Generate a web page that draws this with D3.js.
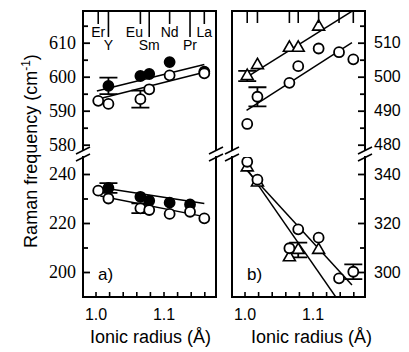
<!DOCTYPE html>
<html>
<head>
<meta charset="utf-8">
<script src="https://cdn.jsdelivr.net/npm/d3@7"></script>
<style>
  body { margin: 0; background: #fff; }
  svg { display: block; }
  .sans { font-family: "Liberation Sans", Arial, sans-serif; }
  .serif { font-family: "Liberation Serif", "Times New Roman", serif; }
</style>
</head>
<body>
<div id="chart"></div>
<script>
// rare-earth ions and their ionic radius (Å)
const elements = ["Er", "Y", "Eu", "Sm", "Nd", "Pr", "La"];
const radii = [1.004, 1.019, 1.066, 1.079, 1.109, 1.139, 1.160];

// panel a) upper and lower band (cm-1)
const aUpFilled = [null, 597.3, 600.2, 600.8, 604.3, null, 601.5];
const aUpOpen = [592.9, 592.0, 593.4, 596.3, 600.4, null, 601.0];
const aLowFilled = [null, 234.3, 230.7, 229.1, 228.3, 227.6, null];
const aLowOpen = [233.2, 230.0, 226.0, 225.3, 223.7, 224.6, 221.9];

// panel b)
const bUpTri = [500.2, 503.4, 508.5, 508.5, 514.7, null, null];
const bUpOpen = [486.1, 494.1, 498.2, 503.1, 508.3, 507.2, 505.1];
const bLowTri = [342.7, 336.5, 306.0, 309.0, 309.0, null, null];
const bLowOpen = [345.0, 337.7, 309.7, 317.4, 314.0, 297.4, 300.1];

// error bars: [element index, half height]
const aUpFilledErr = [[1, 2.4]];
const aUpOpenErr = [[2, 2.5]];
const aLowFilledErr = [[1, 2.0]];
const aLowOpenErr = [[2, 2.0]];
const bUpTriErr = [[0, 1.5]];
const bUpOpenErr = [[1, 2.8]];
const bLowTriErr = [[3, 3.0]];
const bLowOpenErr = [[6, 3.0]];

// linear fits: [[radius, value], [radius, value]]
const aUpFilledFit = [[1.002, 595.8], [1.160, 603.6]];
const aUpOpenFit = [[1.007, 593.6], [1.160, 601.3]];
const aLowFilledFit = [[1.007, 234.5], [1.160, 228.0]];
const aLowOpenFit = [[1.007, 231.0], [1.160, 222.6]];
const bUpTriFit = [[1.001, 499.6], [1.180, 522.0]];
const bUpOpenFit = [[1.003, 490.1], [1.158, 510.0]];
const bLowTriFit = [[1.003, 342.3], [1.136, 289.1]];
const bLowOpenFit = [[1.003, 341.6], [1.158, 294.7]];

// tick values
const xTicks = [1.00, 1.02, 1.04, 1.06, 1.08, 1.10, 1.12, 1.14, 1.16];
const xLabels = [1.0, 1.1];
const aUpMajor = [580, 590, 600, 610], aUpMinor = [585, 595, 605, 615];
const aLowMajor = [200, 220, 240], aLowMinor = [210, 230];
const bUpMajor = [480, 490, 500, 510], bUpMinor = [485, 495, 505, 515];
const bLowMajor = [300, 320, 340], bLowMinor = [310, 330];

const width = 409, height = 352;
const frameTop = 11, frameBottom = 297, breakTop = 150, breakBot = 157;

const svg = d3.select("#chart").append("svg")
  .attr("width", width)
  .attr("height", height);

const panels = [
  {
    id: "a", x0: 83, x1: 216, label: "a)", side: "left",
    up: { domain: [580, 610], major: aUpMajor, minor: aUpMinor,
      series: [
        { values: aUpFilled, marker: "filled", err: aUpFilledErr, fit: aUpFilledFit },
        { values: aUpOpen, marker: "open", err: aUpOpenErr, fit: aUpOpenFit }
      ] },
    low: { domain: [200, 240], major: aLowMajor, minor: aLowMinor,
      series: [
        { values: aLowFilled, marker: "filled", err: aLowFilledErr, fit: aLowFilledFit },
        { values: aLowOpen, marker: "open", err: aLowOpenErr, fit: aLowOpenFit }
      ] }
  },
  {
    id: "b", x0: 232, x1: 365, label: "b)", side: "right",
    up: { domain: [480, 510], major: bUpMajor, minor: bUpMinor,
      series: [
        { values: bUpOpen, marker: "open", err: bUpOpenErr, fit: bUpOpenFit },
        { values: bUpTri, marker: "tri", err: bUpTriErr, fit: bUpTriFit }
      ] },
    low: { domain: [300, 340], major: bLowMajor, minor: bLowMinor,
      series: [
        { values: bLowTri, marker: "tri", err: bLowTriErr, fit: bLowTriFit },
        { values: bLowOpen, marker: "open", err: bLowOpenErr, fit: bLowOpenFit }
      ] }
  }
];

// value -> pixel mapping shared by both panels (upper and lower bands)
const upRange = [144.7, 42.7];
const lowRange = [272, 174];

// Eu label sits left of its tick so it clears Sm
const labelDx = { Eu: -6 };

const defs = svg.append("defs");

panels.forEach(p => {
  const x = d3.scaleLinear().domain([0.9816, 1.1772]).range([p.x0, p.x1]);
  const yUp = d3.scaleLinear().domain(p.up.domain).range(upRange);
  const yLow = d3.scaleLinear().domain(p.low.domain).range(lowRange);

  const g = svg.append("g");

  // clip regions
  defs.append("clipPath").attr("id", "clip-up-" + p.id)
    .append("rect").attr("x", p.x0).attr("y", frameTop)
    .attr("width", p.x1 - p.x0).attr("height", breakTop - frameTop);
  defs.append("clipPath").attr("id", "clip-low-" + p.id)
    .append("rect").attr("x", p.x0).attr("y", breakBot)
    .attr("width", p.x1 - p.x0).attr("height", frameBottom - breakBot);

  [[p.up, yUp, "up"], [p.low, yLow, "low"]].forEach(([band, y, key]) => {
    const layer = g.append("g").attr("clip-path", `url(#clip-${key}-${p.id})`);

    band.series.forEach(s => {
      layer.append("line")
        .attr("x1", x(s.fit[0][0])).attr("y1", y(s.fit[0][1]))
        .attr("x2", x(s.fit[1][0])).attr("y2", y(s.fit[1][1]))
        .attr("stroke", "#000").attr("stroke-width", 1.5);
    });

    band.series.forEach(s => {
      s.err.forEach(([i, e]) => {
        const cx = x(radii[i]);
        const v = s.values[i];
        layer.append("path")
          .attr("d", `M${cx},${y(v - e)}V${y(v + e)}M${cx - 9},${y(v - e)}H${cx + 9}M${cx - 9},${y(v + e)}H${cx + 9}`)
          .attr("stroke", "#000").attr("stroke-width", 1.8).attr("fill", "none");
      });

      const pts = radii.map((r, i) => ({ r, v: s.values[i] })).filter(d => d.v != null);
      if (s.marker === "tri") {
        layer.selectAll(null).data(pts).enter().append("path")
          .attr("d", d3.symbol(d3.symbolTriangle, 62))
          .attr("transform", d => `translate(${x(d.r)},${y(d.v)})`)
          .attr("fill", "#fff").attr("stroke", "#000").attr("stroke-width", 1.6);
      } else {
        layer.selectAll(null).data(pts).enter().append("circle")
          .attr("cx", d => x(d.r)).attr("cy", d => y(d.v)).attr("r", 5)
          .attr("fill", s.marker === "filled" ? "#000" : "#fff")
          .attr("stroke", "#000").attr("stroke-width", 1.8);
      }
    });

    // y ticks
    const axisX = p.side === "left" ? p.x0 : p.x1;
    const mk = p.side === "left" ? d3.axisLeft : d3.axisRight;
    const major = g.append("g")
      .attr("transform", `translate(${axisX},0)`)
      .call(mk(y).tickValues(band.major).tickSize(-7).tickPadding(p.side === "left" ? 7 : 9).tickFormat(d3.format("d")));
    major.select(".domain").remove();
    major.selectAll("line").attr("stroke-width", 1.8);
    major.selectAll("text")
      .attr("class", p.side === "left" ? "serif" : "sans")
      .style("font-size", p.side === "left" ? "18px" : "16px")
      .attr("fill", "#000");
    const minor = g.append("g")
      .attr("transform", `translate(${axisX},0)`)
      .call(mk(y).tickValues(band.minor).tickSize(-5).tickFormat(""));
    minor.select(".domain").remove();
    minor.selectAll("line").attr("stroke-width", 1.8);
  });

  // bottom ticks
  const xAx = g.append("g")
    .attr("transform", `translate(0,${frameBottom})`)
    .call(d3.axisBottom(x).tickValues(xTicks).tickSize(-5).tickPadding(11.6)
      .tickFormat(d => xLabels.some(l => Math.abs(l - d) < 1e-6) ? d3.format(".1f")(d) : ""));
  xAx.select(".domain").remove();
  xAx.selectAll("line").attr("stroke-width", 1.6);
  xAx.selectAll("text").attr("class", "sans").style("font-size", "16px").attr("fill", "#000");

  // top element markers
  g.selectAll(null).data(elements).enter().append("line")
    .attr("x1", (d, i) => x(radii[i])).attr("x2", (d, i) => x(radii[i]))
    .attr("y1", frameTop)
    .attr("y2", (d, i) => p.side === "left" ? (i % 2 ? frameTop + 26 : frameTop + 13) : frameTop + 12)
    .attr("stroke", "#000").attr("stroke-width", 1.6);
  if (p.side === "left") {
    g.selectAll(null).data(elements).enter().append("text")
      .attr("class", "sans")
      .attr("x", (d, i) => x(radii[i]) + (labelDx[d] || 0))
      .attr("y", (d, i) => i % 2 ? 50 : 37)
      .attr("text-anchor", "middle")
      .style("font-size", "14px")
      .text(d => d);
  }

  // frame with axis breaks
  const frame = d3.path();
  frame.moveTo(p.x0, breakTop); frame.lineTo(p.x0, frameTop); frame.lineTo(p.x1, frameTop); frame.lineTo(p.x1, breakTop);
  frame.moveTo(p.x0, breakBot); frame.lineTo(p.x0, frameBottom); frame.lineTo(p.x1, frameBottom); frame.lineTo(p.x1, breakBot);
  g.append("path").attr("d", frame.toString())
    .attr("fill", "none").attr("stroke", "#000").attr("stroke-width", 2)
    .attr("stroke-linecap", "square");
  [p.x0, p.x1].forEach(bx => {
    g.append("path")
      .attr("d", `M${bx - 7},${breakTop + 4}L${bx + 7},${breakTop - 3}M${bx - 7},${breakBot + 4}L${bx + 7},${breakBot - 3}`)
      .attr("stroke", "#000").attr("stroke-width", 1.6);
  });

  g.append("text").attr("class", "sans")
    .attr("x", p.x0 + 15).attr("y", 280)
    .style("font-size", "17px")
    .text(p.label);

  g.append("text").attr("class", "sans")
    .attr("x", p.side === "left" ? 150.5 : 311.5).attr("y", 343)
    .attr("text-anchor", "middle")
    .style("font-size", "18px")
    .text("Ionic radius (Å)");
});

// y axis title
const yt = svg.append("text").attr("class", "sans")
  .attr("transform", "translate(37,151) rotate(-90)")
  .attr("text-anchor", "middle")
  .style("font-size", "18px");
yt.append("tspan").text("Raman frequency (cm");
yt.append("tspan").attr("dy", -7).style("font-size", "12px").text("-1");
yt.append("tspan").attr("dy", 7).text(")");
</script>
</body>
</html>
